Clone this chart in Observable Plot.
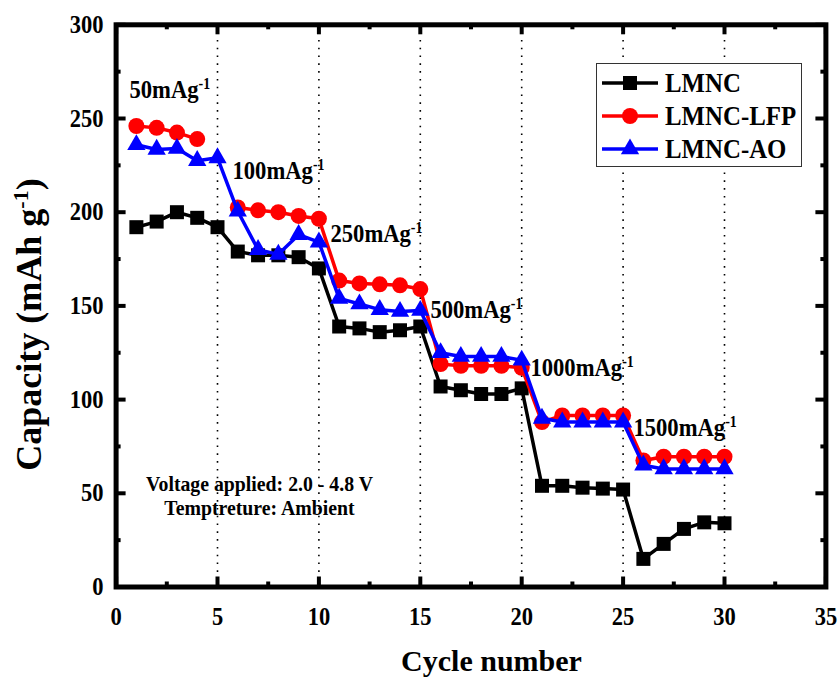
<!DOCTYPE html>
<html><head><meta charset="utf-8">
<script src="https://cdn.jsdelivr.net/npm/d3@7"></script>
<script src="https://cdn.jsdelivr.net/npm/@observablehq/plot@0.6"></script>
<style>
body{margin:0;background:#fff;}
#wrap{position:relative;width:840px;height:678px;}
#legend{position:absolute;left:596px;top:63px;}
</style>
</head><body><div id="wrap"></div>
<script>
// ---- data ----
const cycles = [1,2,3,4,5,6,7,8,9,10,11,12,13,14,15,16,17,18,19,20,21,22,23,24,25,26,27,28,29,30];
const lmnc    = [192,195,200,197,192,179,177,177,176,170,139,138,136,137,139,107,105,103,103,106,54,54,53,52.5,52,15,23,31,34.5,34];
const lmncLfp = [246,245,242.5,239,null,202.5,201,200,198,196.5,163.5,162,161.5,161,159,119,118,118,118,117,88,91.5,91.5,91.5,91.5,67.5,69.5,69.5,69.5,69.5];
const lmncAo  = [236,233.5,234,227.5,229,200.5,180,177.5,188,184,154,151,148,147,147.5,125,123,123,123,121,90,88,88,88,88,65,63,63,63,63];
const seriesNames = ["LMNC","LMNC-LFP","LMNC-AO"];
const xTicks = [0,5,10,15,20,25,30,35];
const yTicks = [0,50,100,150,200,250,300];
const xMinor = [2.5,7.5,12.5,17.5,22.5,27.5,32.5];
const yMinor = [25,75,125,175,225,275];
const gridX = [5,10,15,20,25,30];
const rateLabels = ["50mAg{-1}","100mAg{-1}","250mAg{-1}","500mAg{-1}","1000mAg{-1}","1500mAg{-1}"];
const rateX = [0.66,5.74,10.57,15.5,20.43,25.51];
const rateY = [265.6,222.4,188.8,148.2,116.8,85.2];
const notes = ["Voltage applied: 2.0 - 4.8 V","Temptreture: Ambient"];
const noteX = [7.07,7.07];
const noteY = [55.2,42.2];
const yTitle = "Capacity (mAh g{-1})";
const xTitle = "Cycle number";

const colors = ["#000000","#ff0000","#0000ff"];
const symbols = ["square","circle","triangle"];
const radii = [7.9,8,6.8];
const allSeries = [lmnc,lmncLfp,lmncAo];

const W = 840, H = 678, mL = 115.6, mR = 14.6, mT = 24.3, mB = 91.5;
const pw = W - mL - mR, ph = H - mT - mB;
const font = "'Liberation Serif','Times New Roman',serif";

const marks = [];
marks.push(Plot.ruleX(gridX, {stroke:"#000", strokeWidth:1.6, strokeDasharray:"1.6,6.2"}));
allSeries.forEach((vals, k) => {
  const rows = cycles.map((c,i) => ({cycle:c, value: vals[i]}));
  marks.push(Plot.line(rows, {x:"cycle", y:"value", stroke:colors[k], strokeWidth:3.5}));
  marks.push(Plot.dot(rows.filter(d => d.value != null), {x:"cycle", y:"value", fill:colors[k], stroke:"none", symbol:symbols[k], r:radii[k]}));
});
// inward ticks on four sides
const tk = {stroke:"#000", strokeWidth:4};
marks.push(Plot.tickX(xTicks, {x:d=>d, insetTop:ph-10, ...tk}));
marks.push(Plot.tickX(xTicks, {x:d=>d, insetBottom:ph-10, ...tk}));
marks.push(Plot.tickX(xMinor, {x:d=>d, insetTop:ph-5, ...tk}));
marks.push(Plot.tickX(xMinor, {x:d=>d, insetBottom:ph-5, ...tk}));
marks.push(Plot.tickY(yTicks, {y:d=>d, insetRight:pw-10, ...tk}));
marks.push(Plot.tickY(yTicks, {y:d=>d, insetLeft:pw-10, ...tk}));
marks.push(Plot.tickY(yMinor, {y:d=>d, insetRight:pw-5, ...tk}));
marks.push(Plot.tickY(yMinor, {y:d=>d, insetLeft:pw-5, ...tk}));
marks.push(Plot.frame({stroke:"#000", strokeWidth:5}));
// texts
marks.push(Plot.text(yTicks, {y:d=>d, text:d=>String(d), frameAnchor:"left", textAnchor:"end", lineAnchor:"middle", dx:-12.6, fontSize:25, fontWeight:"bold"}));
marks.push(Plot.text(xTicks, {x:d=>d, text:d=>String(d), frameAnchor:"bottom", textAnchor:"middle", lineAnchor:"middle", dy:29.5, fontSize:25, fontWeight:"bold"}));
marks.push(Plot.text(rateLabels, {x:(d,i)=>rateX[i], y:(d,i)=>rateY[i], text:d=>d, textAnchor:"start", lineAnchor:"middle", fontSize:26, fontWeight:"bold"}));
marks.push(Plot.text(notes, {x:(d,i)=>noteX[i], y:(d,i)=>noteY[i], text:d=>d, lineAnchor:"middle", fontSize:22, fontWeight:"bold"}));
marks.push(Plot.text([xTitle], {text:d=>d, frameAnchor:"bottom", textAnchor:"middle", lineAnchor:"middle", dx:20.5, dy:74, fontSize:30, fontWeight:"bold"}));
marks.push(Plot.text([yTitle], {text:d=>d, frameAnchor:"left", textAnchor:"middle", lineAnchor:"middle", rotate:-90, dx:-87.1, dy:18.6, fontSize:36, fontWeight:"bold"}));

const chart = Plot.plot({
  width:W, height:H, marginLeft:mL, marginRight:mR, marginTop:mT, marginBottom:mB,
  x:{domain:[0,35], axis:null},
  y:{domain:[0,300], axis:null},
  style:{fontFamily:font, background:"#fff", color:"#000", overflow:"visible"},
  marks
});
document.getElementById("wrap").appendChild(chart);

// superscripts and condensed glyphs
function superscript(el, supSize, shift){
  const t = el.textContent;
  const m = t.match(/^(.*)\{([^}]*)\}(.*)$/);
  if(!m) return;
  el.textContent = "";
  const ns = "http://www.w3.org/2000/svg";
  const a = document.createElementNS(ns,"tspan"); a.textContent = m[1]; el.appendChild(a);
  const b = document.createElementNS(ns,"tspan"); b.textContent = m[2]; b.setAttribute("font-size", supSize); b.setAttribute("dy", -shift); el.appendChild(b);
  if(m[3]){ const c = document.createElementNS(ns,"tspan"); c.textContent = m[3]; c.setAttribute("dy", shift); el.appendChild(c); }
}
function squeeze(el, sx){
  const tr = el.getAttribute("transform") || "";
  el.setAttribute("transform", tr + ` scale(${sx},1)`);
}
chart.querySelectorAll("text").forEach(el => {
  const t = el.textContent;
  if (rateLabels.includes(t)) { superscript(el, 16, 9); squeeze(el, 0.87); }
  else if (t === yTitle) { superscript(el, 22, 13); }
  else if (notes.includes(t)) { squeeze(el, 0.9); }
  else if (/^\d+$/.test(t)) { squeeze(el, 0.9); }
});

// legend
const lg = d3.select("#wrap").append("svg").attr("id","legend").attr("width",206).attr("height",104);
lg.append("rect").attr("x",0.5).attr("y",0.5).attr("width",205).attr("height",103).attr("fill","#fff").attr("stroke","#333").attr("stroke-width",1);
const rowY = [20,53,86];
const d3sym = [d3.symbolSquare, d3.symbolCircle, d3.symbolTriangle];
seriesNames.forEach((name,k) => {
  const g = lg.append("g").attr("transform",`translate(0,${rowY[k]})`);
  g.append("line").attr("x1",6).attr("x2",62).attr("y1",0).attr("y2",0).attr("stroke",colors[k]).attr("stroke-width",3.5);
  g.append("path").attr("transform","translate(34,0)").attr("d", d3.symbol(d3sym[k], radii[k]*radii[k]*Math.PI)()).attr("fill",colors[k]);
  g.append("text").attr("transform","translate(69,0) scale(0.92,1)").attr("dy","0.35em")
    .attr("font-family",font).attr("font-weight","bold").attr("font-size",27).attr("fill","#000").text(name);
});
</script></body></html>
